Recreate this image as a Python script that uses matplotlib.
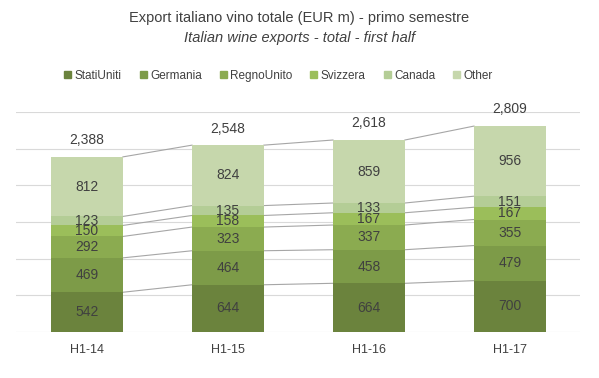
import matplotlib
matplotlib.use('Agg')
import matplotlib.pyplot as plt
import numpy as np
from matplotlib.patches import Patch

periods = ['H1-14', 'H1-15', 'H1-16', 'H1-17']
series = ['StatiUniti', 'Germania', 'RegnoUnito', 'Svizzera', 'Canada', 'Other']
stati_uniti = [542, 644, 664, 700]
germania = [469, 464, 458, 479]
regno_unito = [292, 323, 337, 355]
svizzera = [150, 158, 167, 167]
canada = [123, 135, 133, 151]
other = [812, 824, 859, 956]
totals = [2388, 2548, 2618, 2809]

colors = ['#6b833d', '#7d9b48', '#8bab50', '#9bbe5a', '#b4cd96', '#c6d7ac']
text_color = '#404040'

plt.rcParams['font.family'] = ['Liberation Sans', 'DejaVu Sans']

fig = plt.figure(figsize=(5.99, 3.78), dpi=100)
ax = fig.add_axes([0.0275, 0.1217, 0.9415, 0.582])

data = [stati_uniti, germania, regno_unito, svizzera, canada, other]
x = np.arange(len(periods))
width = 0.51
bottom = np.zeros(len(periods))
for name, vals, c in zip(series, data, colors):
    vals = np.array(vals, dtype=float)
    ax.bar(x, vals, width, bottom=bottom, color=c, zorder=2)
    tops = bottom + vals
    # connector lines between segment tops
    for i in range(len(x) - 1):
        ax.plot([x[i] + width / 2, x[i + 1] - width / 2], [tops[i], tops[i + 1]],
                color='#a6a6a6', lw=0.8, zorder=1)
    for i in range(len(x)):
        ax.text(x[i], bottom[i] + vals[i] / 2, f'{int(vals[i])}', ha='center', va='center',
                fontsize=10, color=text_color, zorder=3)
    bottom = tops

for i, t in enumerate(totals):
    ax.text(x[i], t + 130, f'{t:,}', ha='center', va='bottom', fontsize=10, color=text_color)

ax.set_xlim(-0.5, 3.5)
ax.set_ylim(0, 3000)
ax.set_yticks(np.arange(0, 3001, 500))
ax.yaxis.grid(True, color='#d9d9d9', lw=0.8, zorder=0)
ax.set_axisbelow(True)
ax.tick_params(axis='y', left=False, labelleft=False)
ax.tick_params(axis='x', bottom=False, labelsize=9, labelcolor=text_color, pad=5)
ax.set_xticks(x)
ax.set_xticklabels(periods)
for s in ax.spines.values():
    s.set_visible(False)

fig.text(0.5, 0.953, 'Export italiano vino totale (EUR m) - primo semestre', ha='center', va='center',
         fontsize=10.5, color=text_color)
fig.text(0.5, 0.9, 'Italian wine exports - total - first half', ha='center', va='center',
         fontsize=10.5, color=text_color, style='italic')

handles = [Patch(color=c) for c in colors]
fig.legend(handles, series, loc='center', bbox_to_anchor=(0.465, 0.8), ncol=6, frameon=False,
           fontsize=8.5, handlelength=0.6, handleheight=0.6, handletextpad=0.3, columnspacing=1.5,
           labelcolor=text_color)

fig.savefig('out.png', dpi=100)
